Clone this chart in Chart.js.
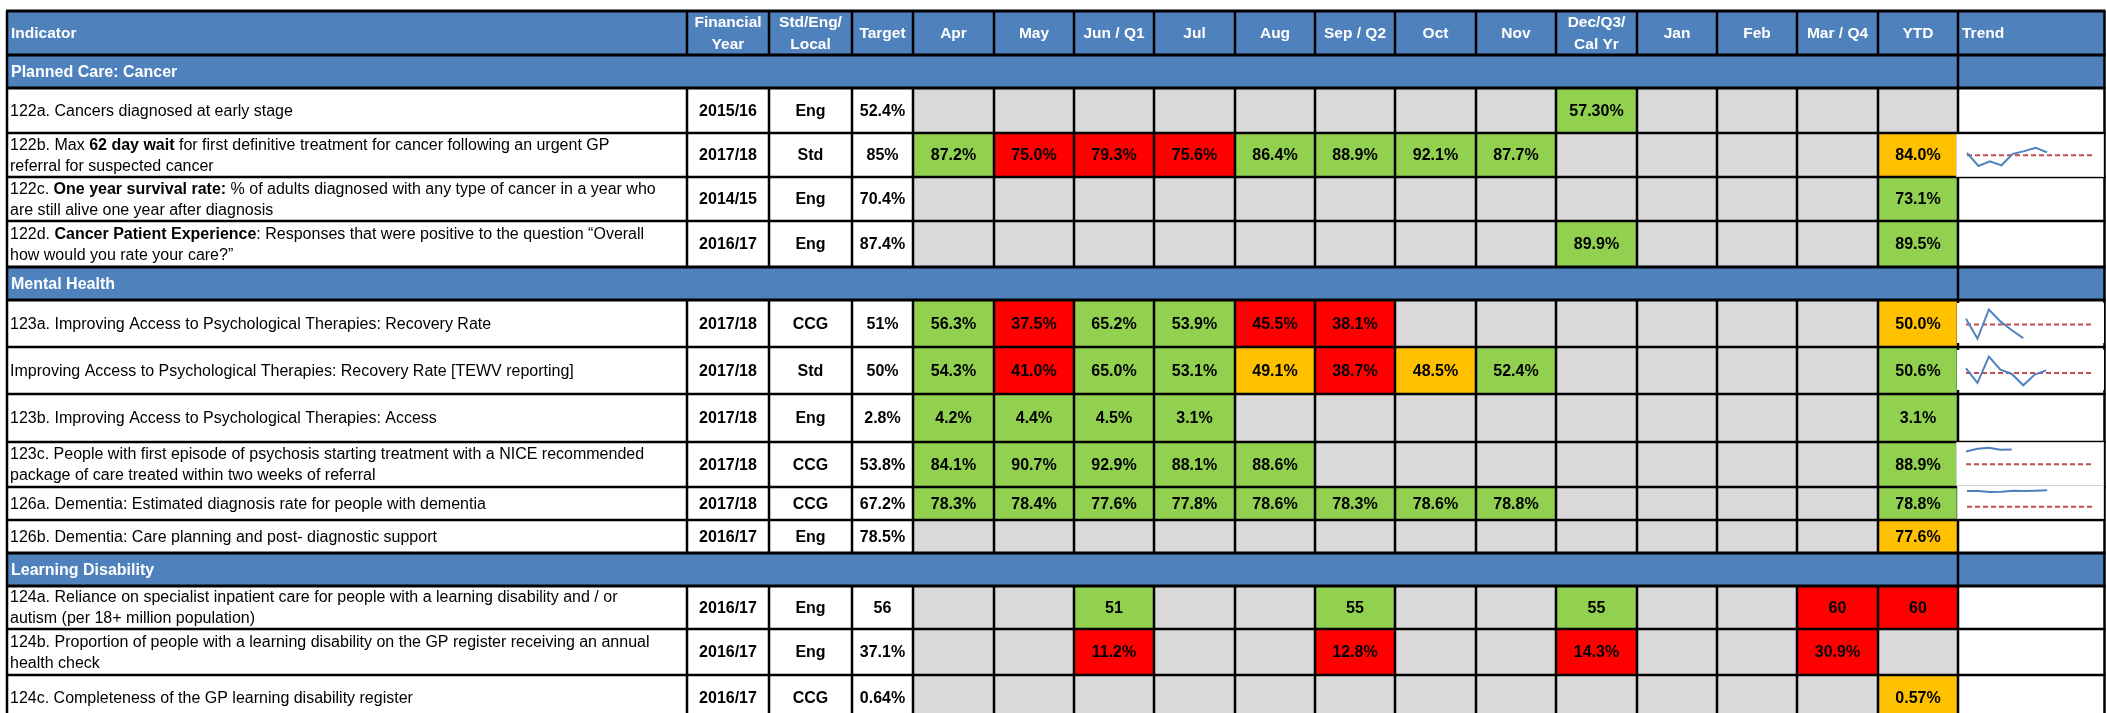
<!DOCTYPE html>
<html>
<head>
<meta charset="utf-8">
<script src="https://cdn.jsdelivr.net/npm/chart.js@4.4.0/dist/chart.umd.min.js"></script>
<style>
html, body { margin: 0; padding: 0; background: #fff; }
#wrap { position: relative; width: 2106px; height: 713px; overflow: hidden; }
#wrap canvas { position: absolute; }
</style>
</head>
<body>
<div id="wrap"><canvas id="table" width="2106" height="713" style="left:0;top:0"></canvas></div>
<script>
// Cabeceras y etiquetas
const columns = ['Indicator', 'Financial\nYear', 'Std/Eng/\nLocal', 'Target', 'Apr', 'May', 'Jun / Q1', 'Jul', 'Aug',
    'Sep / Q2', 'Oct', 'Nov', 'Dec/Q3/\nCal Yr', 'Jan', 'Feb', 'Mar / Q4', 'YTD', 'Trend'];
const sparkLabels = ['Apr', 'May', 'Jun', 'Jul', 'Aug', 'Sep', 'Oct', 'Nov', 'Dec', 'Jan', 'Feb', 'Mar'];
const sections = ['Planned Care: Cancer', 'Mental Health', 'Learning Disability'];

const indicators = [
    '122a. Cancers diagnosed at early stage',
    '122b. Max **62 day wait** for first definitive treatment for cancer following an urgent GP\nreferral for suspected cancer',
    '122c. **One year survival rate:** % of adults diagnosed with any type of cancer in a year who\nare still alive one year after diagnosis',
    '122d. **Cancer Patient Experience**: Responses that were positive to the question \u201cOverall\nhow would you rate your care?\u201d',
    '123a. Improving Access to Psychological Therapies: Recovery Rate',
    'Improving Access to Psychological Therapies: Recovery Rate [TEWV reporting]',
    '123b. Improving Access to Psychological Therapies: Access',
    '123c. People with first episode of psychosis starting treatment with a NICE recommended\npackage of care treated within two weeks of referral',
    '126a. Dementia: Estimated diagnosis rate for people with dementia',
    '126b. Dementia: Care planning and post- diagnostic support',
    '124a. Reliance on specialist inpatient care for people with a learning disability and / or\nautism (per 18+ million population)',
    '124b. Proportion of people with a learning disability on the GP register receiving an annual\nhealth check',
    '124c. Completeness of the GP learning disability register'
];
const sectionOf = [0, 0, 0, 0, 1, 1, 1, 1, 1, 1, 2, 2, 2];
const finYear = ['2015/16', '2017/18', '2014/15', '2016/17', '2017/18', '2017/18', '2017/18', '2017/18', '2017/18', '2016/17', '2016/17', '2016/17', '2016/17'];
const stdEngLocal = ['Eng', 'Std', 'Eng', 'Eng', 'CCG', 'Std', 'Eng', 'CCG', 'CCG', 'Eng', 'Eng', 'Eng', 'CCG'];
const targets = ['52.4%', '85%', '70.4%', '87.4%', '51%', '50%', '2.8%', '53.8%', '67.2%', '78.5%', '56', '37.1%', '0.64%'];

// Valores Apr..Mar + YTD
const v122a = [null, null, null, null, null, null, null, null, '57.30%', null, null, null, null];
const v122b = ['87.2%', '75.0%', '79.3%', '75.6%', '86.4%', '88.9%', '92.1%', '87.7%', null, null, null, null, '84.0%'];
const v122c = [null, null, null, null, null, null, null, null, null, null, null, null, '73.1%'];
const v122d = [null, null, null, null, null, null, null, null, '89.9%', null, null, null, '89.5%'];
const v123a = ['56.3%', '37.5%', '65.2%', '53.9%', '45.5%', '38.1%', null, null, null, null, null, null, '50.0%'];
const vTewv = ['54.3%', '41.0%', '65.0%', '53.1%', '49.1%', '38.7%', '48.5%', '52.4%', null, null, null, null, '50.6%'];
const v123b = ['4.2%', '4.4%', '4.5%', '3.1%', null, null, null, null, null, null, null, null, '3.1%'];
const v123c = ['84.1%', '90.7%', '92.9%', '88.1%', '88.6%', null, null, null, null, null, null, null, '88.9%'];
const v126a = ['78.3%', '78.4%', '77.6%', '77.8%', '78.6%', '78.3%', '78.6%', '78.8%', null, null, null, null, '78.8%'];
const v126b = [null, null, null, null, null, null, null, null, null, null, null, null, '77.6%'];
const v124a = [null, null, '51', null, null, '55', null, null, '55', null, null, '60', '60'];
const v124b = [null, null, '11.2%', null, null, '12.8%', null, null, '14.3%', null, null, '30.9%', null];
const v124c = [null, null, null, null, null, null, null, null, null, null, null, null, '0.57%'];

// Estado RAG (G verde, A ambar, R rojo, - sin dato)
const rag122a = '--------G----';
const rag122b = 'GRRRGGGG----A';
const rag122c = '------------G';
const rag122d = '--------G---G';
const rag123a = 'GRGGRR------A';
const ragTewv = 'GRGGARAG----G';
const rag123b = 'GGGG--------G';
const rag123c = 'GGGGG-------G';
const rag126a = 'GGGGGGGG----G';
const rag126b = '------------A';
const rag124a = '--G--G--G--RR';
const rag124b = '--R--R--R--R-';
const rag124c = '------------A';

const monthly = [v122a, v122b, v122c, v122d, v123a, vTewv, v123b, v123c, v126a, v126b, v124a, v124b, v124c];
const rag = [rag122a, rag122b, rag122c, rag122d, rag123a, ragTewv, rag123b, rag123c, rag126a, rag126b, rag124a, rag124b, rag124c];
const trendRows = [1, 4, 5, 7, 8];

// Estilos y disposicion
const COL = { blue: '#4F81BD', grey: '#D9D9D9', G: '#92D050', R: '#FF0000', A: '#FFC000' };
const FONT = '"Liberation Sans", Arial, sans-serif';
const colEdges = [7, 687, 769, 852, 913, 994, 1074, 1154, 1235, 1315, 1395, 1476, 1556, 1637, 1717, 1797, 1878, 1958, 2104];
const rowEdges = [11, 55, 88, 133, 177, 221, 267, 300, 347, 394, 442, 487, 520, 553, 586, 629, 675, 720];
const sparkBoxes = [
    { left: 1957, top: 135, w: 146, h: 41, padL: 10, padR: 10, min: 65.6, max: 104, border: true },
    { left: 1957, top: 303, w: 147, h: 40, padL: 9, padR: 12, min: 33.5, max: 71.3, border: false },
    { left: 1957, top: 350, w: 147, h: 40, padL: 9, padR: 12, min: 34.4, max: 71.1, border: false },
    { left: 1957, top: 443, w: 146, h: 42, padL: 9, padR: 11, min: 4.3, max: 104.3, border: true },
    { left: 1958, top: 486, w: 145, h: 32, padL: 9, padR: 10, min: 59.2, max: 81.9, border: true }
];

// Filas de la tabla: cabecera, secciones y datos
const layoutRows = [{ kind: 'header' }];
let lastSec = -1;
indicators.forEach((t, i) => {
    if (sectionOf[i] !== lastSec) { lastSec = sectionOf[i]; layoutRows.push({ kind: 'section', sec: lastSec }); }
    layoutRows.push({ kind: 'data', idx: i });
});

function drawRich(ctx, text, x, y, size, maxW) {
    const parts = text.split('**');
    let total = 0;
    parts.forEach((p, i) => { ctx.font = (i % 2 ? 'bold ' : '') + size + 'px ' + FONT; total += ctx.measureText(p).width; });
    const s = total > maxW ? maxW / total : 1;
    ctx.save();
    ctx.translate(x, y);
    ctx.scale(s, 1);
    let cx = 0;
    parts.forEach((p, i) => {
        ctx.font = (i % 2 ? 'bold ' : '') + size + 'px ' + FONT;
        ctx.fillText(p, cx, 0);
        cx += ctx.measureText(p).width;
    });
    ctx.restore();
}

function drawLines(ctx, lines, x, mid, gap, size, maxW, align) {
    const n = lines.length;
    lines.forEach((ln, k) => {
        const yy = mid + 1 + (k - (n - 1) / 2) * gap;
        if (align === 'left') drawRich(ctx, ln, x, yy, size, maxW);
        else { ctx.textAlign = 'center'; ctx.fillText(ln, x, yy); ctx.textAlign = 'left'; }
    });
}

const tablePlugin = {
    id: 'table',
    beforeDraw(chart) {
        const { ctx, scales: { x, y } } = chart;
        const X = v => x.getPixelForValue(v), Y = v => y.getPixelForValue(v);
        const last = colEdges.length - 1;
        ctx.save();
        ctx.fillStyle = '#fff';
        ctx.fillRect(0, 0, chart.width, chart.height);

        // celdas
        layoutRows.forEach((r, ri) => {
            const y0 = Y(rowEdges[ri]), y1 = Y(rowEdges[ri + 1]);
            if (r.kind !== 'data') {
                ctx.fillStyle = COL.blue;
                ctx.fillRect(X(colEdges[0]), y0, X(colEdges[last]) - X(colEdges[0]), y1 - y0);
                return;
            }
            for (let c = 4; c <= 16; c++) {
                const st = rag[r.idx][c - 4];
                ctx.fillStyle = st === '-' ? COL.grey : COL[st];
                ctx.fillRect(X(colEdges[c]), y0, X(colEdges[c + 1]) - X(colEdges[c]), y1 - y0);
            }
        });

        // rejilla
        ctx.strokeStyle = '#000';
        layoutRows.forEach((r, ri) => {
            const y0 = Y(rowEdges[ri]), y1 = Y(rowEdges[ri + 1]);
            const nextSec = layoutRows[ri + 1] && layoutRows[ri + 1].kind !== 'data';
            ctx.lineWidth = (r.kind !== 'data' || nextSec) ? 3 : 2.5;
            ctx.beginPath();
            ctx.moveTo(X(colEdges[0]) - 1, y1); ctx.lineTo(X(colEdges[last]) + 1.5, y1);
            if (ri === 0) { ctx.moveTo(X(colEdges[0]) - 1, y0); ctx.lineTo(X(colEdges[last]) + 1.5, y0); }
            ctx.stroke();
            ctx.lineWidth = 2.5;
            ctx.beginPath();
            const cols = r.kind === 'section' ? [0, 17, last] : colEdges.map((_, k) => k);
            cols.forEach(k => {
                const xx = X(colEdges[k]) + (k === last ? 0.5 : 0);
                ctx.moveTo(xx, y0); ctx.lineTo(xx, y1);
            });
            ctx.stroke();
        });

        // textos
        ctx.textBaseline = 'middle';
        layoutRows.forEach((r, ri) => {
            const y0 = Y(rowEdges[ri]), y1 = Y(rowEdges[ri + 1]);
            const mid = (y0 + y1) / 2;
            if (r.kind === 'header') {
                ctx.fillStyle = '#fff';
                columns.forEach((h, c) => {
                    const lines = h.split('\n');
                    if (c === 0 || c === 17) drawLines(ctx, ['**' + h + '**'], X(colEdges[c]) + 4, mid, 22, 15.5, 600, 'left');
                    else { ctx.font = 'bold 15.5px ' + FONT; drawLines(ctx, lines, (X(colEdges[c]) + X(colEdges[c + 1])) / 2, mid, 22, 15.5, 0, 'center'); }
                });
            } else if (r.kind === 'section') {
                ctx.fillStyle = '#fff';
                drawLines(ctx, ['**' + sections[r.sec] + '**'], X(colEdges[0]) + 4, mid, 22, 16, 600, 'left');
            } else {
                const i = r.idx;
                ctx.fillStyle = '#000';
                drawLines(ctx, indicators[i].split('\n'), X(colEdges[0]) + 3, mid, 21, 16, 678, 'left');
                ctx.font = 'bold 16px ' + FONT;
                const cells = [finYear[i], stdEngLocal[i], targets[i]].concat(monthly[i]);
                cells.forEach((v, k) => {
                    if (v === null) return;
                    const c = k + 1;
                    drawLines(ctx, [v], (X(colEdges[c]) + X(colEdges[c + 1])) / 2, mid, 21, 16, 0, 'center');
                });
            }
        });
        ctx.restore();
    }
};

new Chart(document.getElementById('table'), {
    type: 'scatter',
    data: { datasets: [] },
    options: {
        responsive: false, animation: false, events: [],
        layout: { padding: 0 },
        plugins: { legend: { display: false }, tooltip: { enabled: false } },
        scales: {
            x: { type: 'linear', display: false, min: 0, max: 2106 },
            y: { type: 'linear', display: false, min: 0, max: 713, reverse: true }
        }
    },
    plugins: [tablePlugin]
});

// Sparklines de tendencia
const wrap = document.getElementById('wrap');
trendRows.forEach((i, k) => {
    const b = sparkBoxes[k];
    const cv = document.createElement('canvas');
    cv.width = b.w; cv.height = b.h;
    cv.style.left = b.left + 'px'; cv.style.top = b.top + 'px';
    cv.style.background = '#fff';
    if (b.border) cv.style.outline = '1px solid #d0d0d0';
    wrap.appendChild(cv);
    const vals = monthly[i].slice(0, 12).map(v => v === null ? null : parseFloat(v));
    const tgt = sparkLabels.map(() => parseFloat(targets[i]));
    new Chart(cv, {
        type: 'line',
        data: {
            labels: sparkLabels,
            datasets: [
                { data: vals, borderColor: '#4F81BD', borderWidth: 2, pointRadius: 0, tension: 0, spanGaps: false },
                { data: tgt, borderColor: '#C0504D', borderWidth: 2, borderDash: [5, 3], pointRadius: 0 }
            ]
        },
        options: {
            responsive: false, animation: false, events: [],
            layout: { padding: { left: b.padL, right: b.padR, top: 0, bottom: 0 } },
            plugins: { legend: { display: false }, tooltip: { enabled: false } },
            scales: {
                x: { display: false, offset: false },
                y: { display: false, min: b.min, max: b.max }
            }
        }
    });
});
</script>
</body>
</html>
